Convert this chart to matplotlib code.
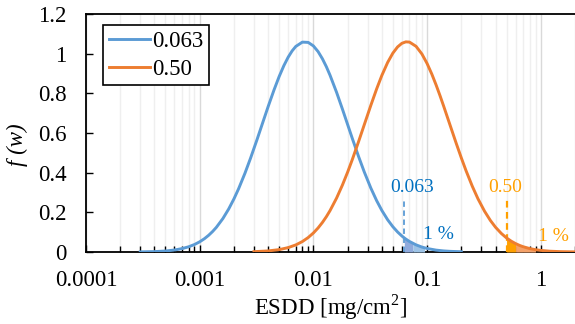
import matplotlib
matplotlib.use("Agg")
import matplotlib.pyplot as plt
from matplotlib.ticker import LogLocator, NullFormatter, FixedLocator

plt.rcParams['font.family'] = ['Liberation Serif', 'DejaVu Serif']
plt.rcParams['mathtext.fontset'] = 'custom'
plt.rcParams['mathtext.rm'] = 'Liberation Serif'

# frequency curves, ESDD in mg/cm2
esdd_a = [0.0003, 0.0004, 0.0005, 0.0006, 0.0007, 0.0008, 0.0009,
          0.001, 0.0011, 0.0012, 0.0013, 0.0014, 0.0016, 0.0018, 0.002, 0.0022,
          0.0025, 0.0028, 0.0032, 0.0036, 0.004, 0.0045, 0.005, 0.0055, 0.006,
          0.0065, 0.007, 0.008, 0.009,
          0.01, 0.011, 0.012, 0.013, 0.014, 0.016, 0.018, 0.02, 0.022,
          0.025, 0.028, 0.032, 0.036, 0.04, 0.045, 0.05, 0.055, 0.06,
          0.063, 0.065, 0.07, 0.08, 0.09,
          0.1, 0.12, 0.14, 0.16, 0.2]
f_a = [0.0006, 0.002, 0.005, 0.010, 0.0171, 0.0264, 0.0378,
       0.0514, 0.0670, 0.0845, 0.1036, 0.1240, 0.1687, 0.2171, 0.2676, 0.3192,
       0.3969, 0.4729, 0.5682, 0.6555, 0.7332, 0.8163, 0.8849, 0.9397, 0.9822,
       1.0139, 1.0364, 1.0582, 1.0568,
       1.0391, 1.0104, 0.9745, 0.9344, 0.8917, 0.8048, 0.7207, 0.6429, 0.5724,
       0.4807, 0.4042, 0.3225, 0.2590, 0.2096, 0.1625, 0.1274, 0.1010, 0.0808,
       0.0710, 0.0653, 0.0531, 0.0360, 0.0250,
       0.0178, 0.0095, 0.0054, 0.0033, 0.0013]

esdd_b = [0.003, 0.004, 0.005, 0.006, 0.007, 0.008, 0.009,
          0.01, 0.011, 0.012, 0.013, 0.014, 0.016, 0.018, 0.02, 0.022,
          0.025, 0.028, 0.032, 0.036, 0.04, 0.045, 0.05, 0.055, 0.06,
          0.065, 0.07, 0.08, 0.09,
          0.1, 0.11, 0.12, 0.13, 0.14, 0.16, 0.18, 0.2, 0.22,
          0.25, 0.28, 0.32, 0.36, 0.4, 0.45, 0.5, 0.55, 0.6,
          0.65, 0.7, 0.8, 0.9,
          1.0, 1.2, 1.5, 2.0]
f_b = [0.0017, 0.0054, 0.0120, 0.0221, 0.0357, 0.0527, 0.0729,
       0.0959, 0.1213, 0.1488, 0.1779, 0.2084, 0.2720, 0.3374, 0.4025, 0.4663,
       0.5574, 0.6411, 0.7393, 0.8222, 0.8902, 0.9558, 1.0027, 1.0339, 1.0521,
       1.0595, 1.0584, 1.0370, 0.9986,
       0.9504, 0.8973, 0.8424, 0.7880, 0.7349, 0.6364, 0.5496, 0.4747, 0.4103,
       0.3312, 0.2688, 0.2059, 0.1594, 0.1248, 0.0934, 0.0708, 0.0545, 0.0425,
       0.0334, 0.0266, 0.0173, 0.0116,
       0.0080, 0.0040, 0.0017, 0.0005]

labels = ['0.063', '0.50']
limits = [0.063, 0.50]   # 99 % values

# upper 1 % tails
tail_a_x = [0.063, 0.065, 0.07, 0.075, 0.08, 0.09, 0.095]
tail_a_y = [0.071, 0.065, 0.053, 0.044, 0.036, 0.025, 0.021]
tail_b_x = [0.5, 0.55, 0.6, 0.65, 0.7, 0.8, 0.9]
tail_b_y = [0.071, 0.0545, 0.0425, 0.0334, 0.0266, 0.0173, 0.0116]

blue = '#5B9BD5'
orange = '#ED7D31'

fig = plt.figure(figsize=(5.75, 3.24), dpi=100)
ax = fig.add_axes([86 / 575, 1 - 252 / 324, 1 - 86 / 575, 238 / 324])

ax.plot(esdd_a, f_a, color=blue, lw=2.1, label=labels[0], zorder=4)
ax.plot(esdd_b, f_b, color=orange, lw=2.1, label=labels[1], zorder=4)

# shaded tails, two tones each
ax.fill_between(tail_a_x[:4], 0, tail_a_y[:4], color='#8FAADC', lw=0, zorder=3)
ax.fill_between(tail_a_x[3:], 0, tail_a_y[3:], color='#9DC3E6', lw=0, zorder=3)
ax.fill_between(tail_b_x[:3], 0, tail_b_y[:3], color='#FFA000', lw=0, zorder=3)
ax.fill_between(tail_b_x[2:], 0, tail_b_y[2:], color='#F4A26A', lw=0, zorder=3)

# markers for the 99 % values
ax.plot([limits[0], limits[0]], [0, 0.27], ls=(0, (3, 2)), color=blue, lw=1.3, zorder=3)
ax.plot([limits[1], limits[1]], [0, 0.27], ls=(0, (3, 2)), color='#FFA000', lw=1.6, zorder=3)
ax.text(0.074, 0.323, labels[0], color='#0070C0', fontsize=14, ha='center', va='center')
ax.text(0.484, 0.323, labels[1], color='#FFA000', fontsize=14, ha='center', va='center')
ax.text(0.125, 0.086, '1 %', color='#0070C0', fontsize=14, ha='center', va='center')
ax.text(1.28, 0.08, '1 %', color='#FFA000', fontsize=14, ha='center', va='center')

ax.set_xscale('log')
ax.set_xlim(1e-4, 2)
ax.set_ylim(0, 1.2)
ax.xaxis.set_major_locator(FixedLocator([1e-4, 1e-3, 1e-2, 1e-1, 1]))
ax.set_xticklabels(['0.0001', '0.001', '0.01', '0.1', '1'])
ax.xaxis.set_minor_locator(LogLocator(base=10, subs=range(2, 10), numticks=20))
ax.xaxis.set_minor_formatter(NullFormatter())
ax.set_yticks([0, 0.2, 0.4, 0.6, 0.8, 1.0, 1.2])
ax.set_yticklabels(['0', '0.2', '0.4', '0.6', '0.8', '1', '1.2'])

ax.grid(True, axis='x', which='major', color='#D9D9D9', lw=1.0, zorder=0)
ax.grid(True, axis='x', which='minor', color='#EFEFEF', lw=1.0, zorder=0)
ax.set_axisbelow(True)

ax.tick_params(axis='both', which='major', direction='in', length=5, width=1,
               labelsize=16.5, color='black')
ax.tick_params(axis='x', which='major', pad=13)
ax.tick_params(axis='y', which='major', pad=14)
ax.tick_params(axis='x', which='minor', direction='in', length=4, width=1)
ax.tick_params(axis='x', which='minor', top=False)

ax.spines['right'].set_visible(False)
for s in ['left', 'bottom', 'top']:
    ax.spines[s].set_linewidth(1.3)

ax.set_xlabel('ESDD [mg/cm$^2$]', fontsize=16.5)
ax.xaxis.set_label_coords(0.5, -(292 - 252) / 238)
ax.set_ylabel('f (w)', fontsize=16.5, style='italic')
ax.yaxis.set_label_coords(-0.118, 0.45)

leg = ax.legend(loc='upper left', bbox_to_anchor=(0.035, 0.954), borderaxespad=0,
                fontsize=16.5, handlelength=1.8, handletextpad=0.1, labelspacing=0.3,
                borderpad=0.25, fancybox=False, framealpha=1, edgecolor='black')
leg.get_frame().set_linewidth(1.2)

fig.savefig('out.png', dpi=100)
